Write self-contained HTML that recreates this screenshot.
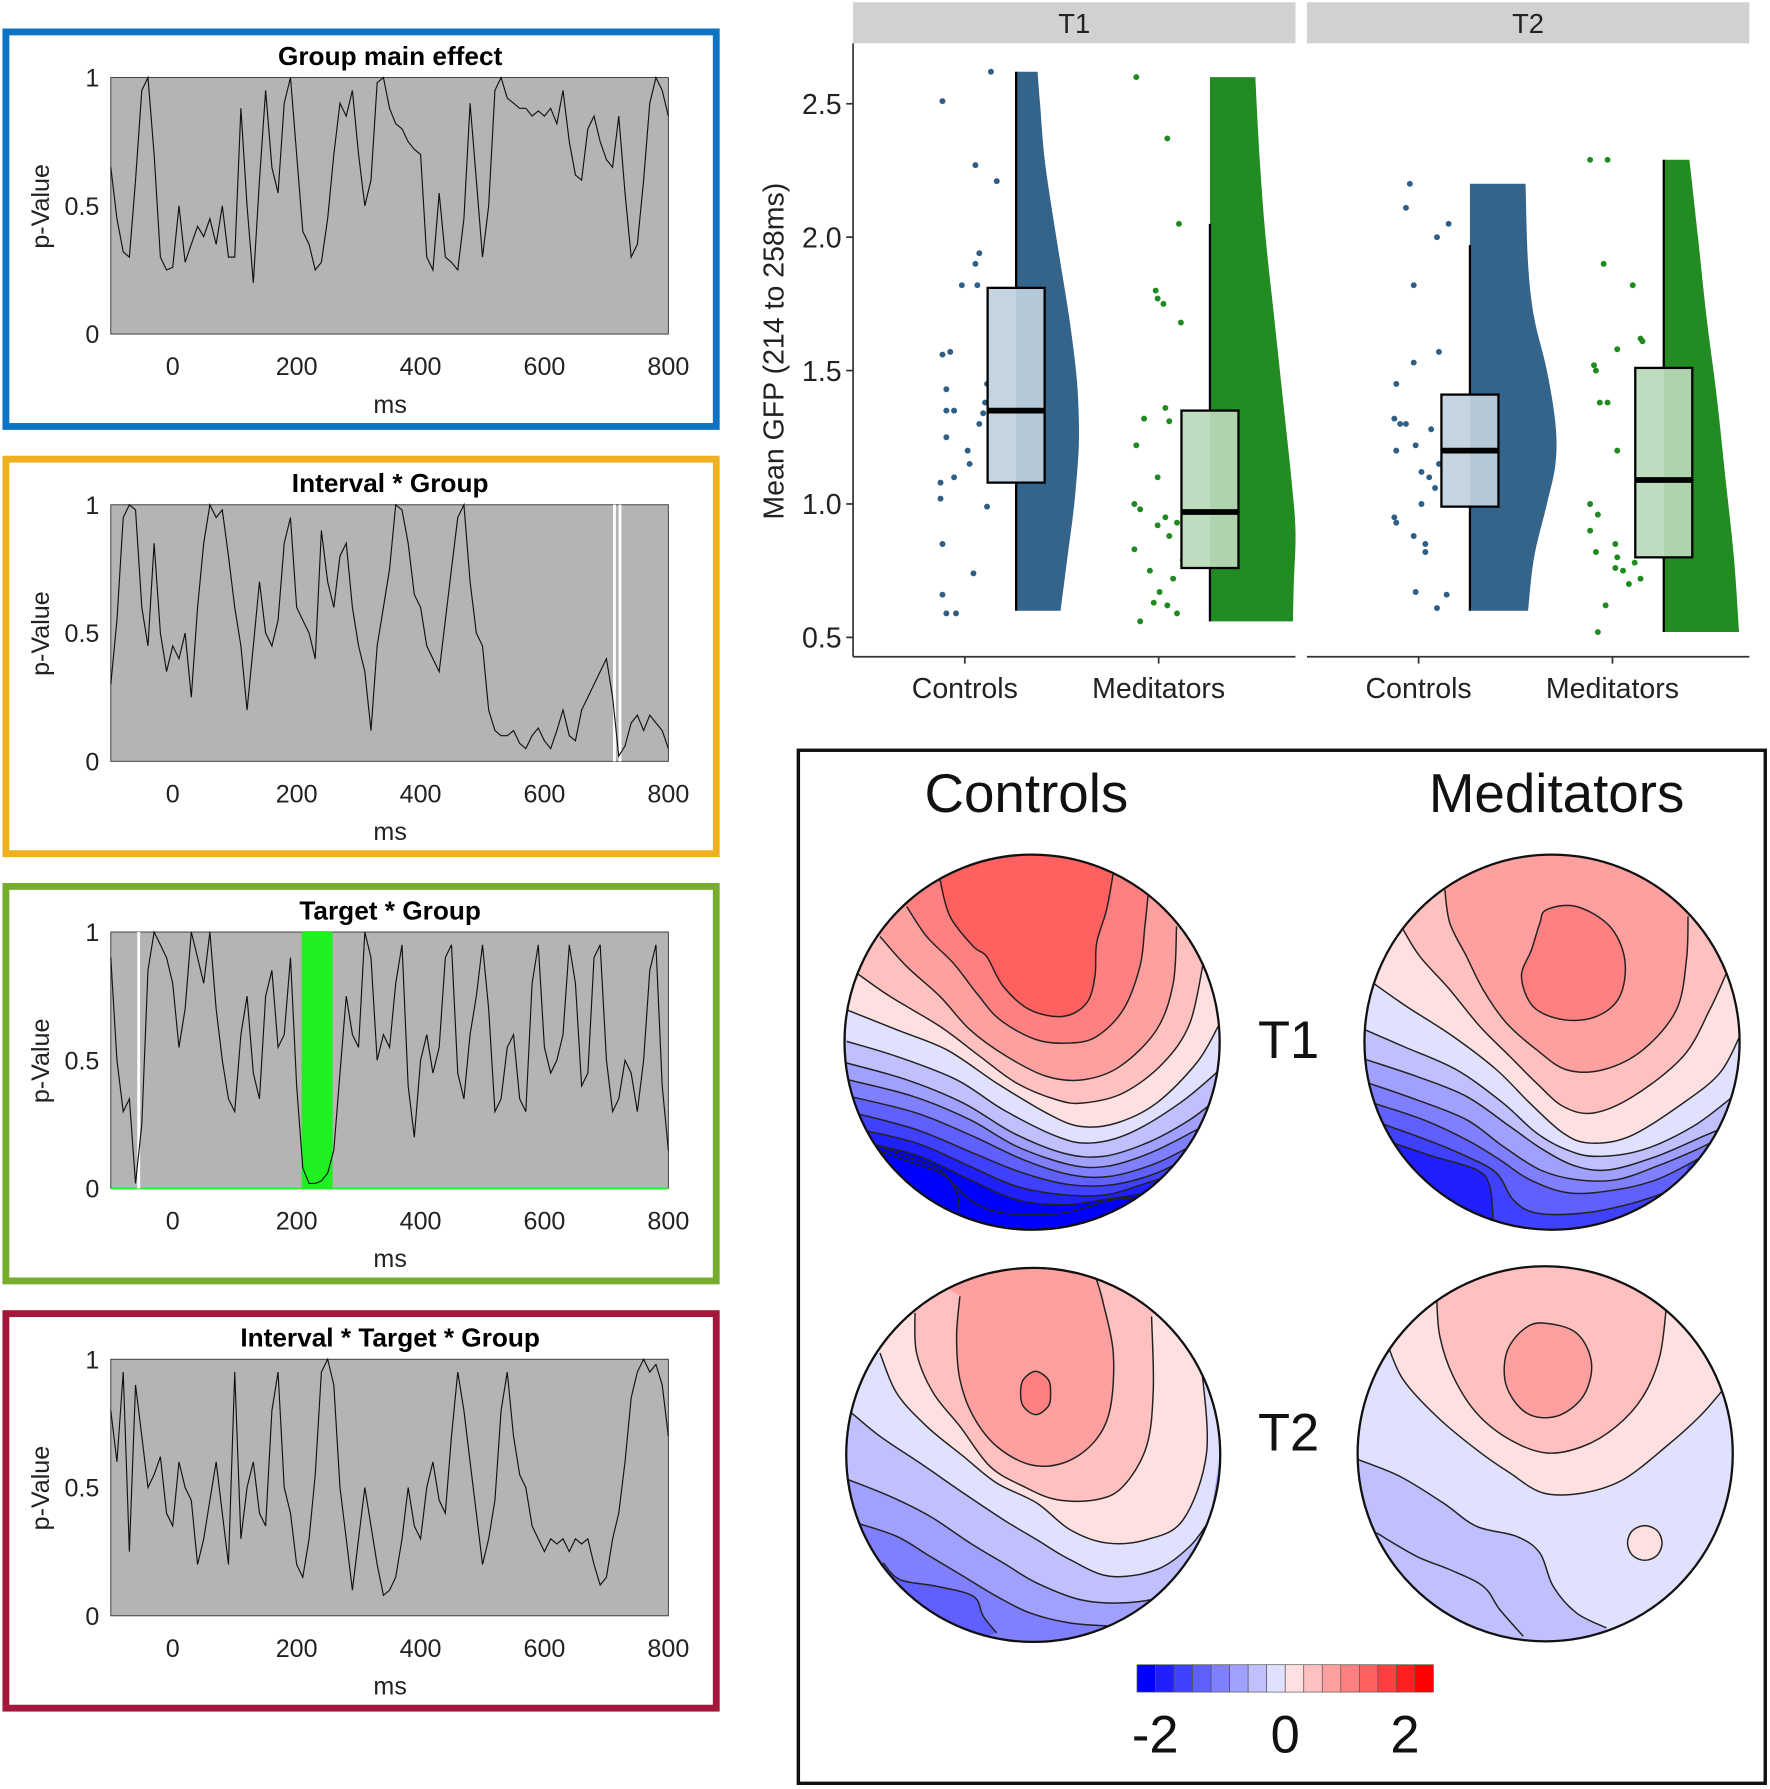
<!DOCTYPE html>
<html><head><meta charset="utf-8"><style>
html,body{margin:0;padding:0;background:#fff;}
svg{display:block;font-family:"Liberation Sans",Arial,sans-serif;}
</style></head><body>
<svg id="root" width="1770" height="1789" viewBox="0 0 1552 1569" xmlns="http://www.w3.org/2000/svg">
<defs>
<clipPath id="c1"><circle cx="905" cy="914" r="164.5"/></clipPath>
<clipPath id="c2"><circle cx="1361" cy="914" r="164.5"/></clipPath>
<clipPath id="c3"><circle cx="906" cy="1276" r="164"/></clipPath>
<clipPath id="c4"><circle cx="1355" cy="1275" r="164.5"/></clipPath>
</defs>
<g id="left"></g>
<g id="rain"></g>
<g id="topo"></g>
</svg>
<script>
const times=[-100,-90,-80,-70,-60,-50,-40,-30,-20,-10,0,10,20,30,40,50,60,70,80,90,100,110,120,130,140,150,160,170,180,190,200,210,220,230,240,250,260,270,280,290,300,310,320,330,340,350,360,370,380,390,400,410,420,430,440,450,460,470,480,490,500,510,520,530,540,550,560,570,580,590,600,610,620,630,640,650,660,670,680,690,700,710,720,730,740,750,760,770,780,790,800];
const pGroup=[.65,.45,.32,.3,.6,.95,1,.7,.3,.25,.26,.5,.28,.35,.42,.38,.45,.35,.5,.3,.3,.88,.5,.2,.6,.95,.65,.55,.9,1,.7,.4,.35,.25,.28,.45,.7,.9,.85,.95,.7,.5,.6,.98,1,.88,.82,.8,.75,.72,.7,.3,.25,.55,.3,.28,.25,.45,.9,.6,.3,.5,.95,1,.92,.9,.88,.88,.85,.87,.85,.88,.82,.95,.75,.62,.6,.8,.85,.75,.68,.65,.85,.55,.3,.35,.6,.9,1,.95,.85];
const pInterval=[.3,.55,.95,1,.98,.6,.45,.85,.5,.35,.45,.4,.5,.25,.6,.85,1,.95,.98,.8,.6,.45,.2,.45,.7,.5,.45,.55,.85,.95,.6,.55,.5,.4,.9,.7,.6,.8,.85,.6,.45,.35,.12,.45,.6,.75,1,.98,.85,.65,.6,.45,.4,.35,.55,.75,.95,1,.7,.5,.45,.2,.12,.1,.1,.12,.07,.05,.1,.13,.08,.05,.12,.2,.1,.08,.2,.25,.3,.35,.4,.25,.02,.06,.15,.18,.12,.18,.15,.12,.05];
const pTarget=[.9,.5,.3,.35,.02,.25,.85,1,.95,.9,.8,.55,.7,1,.9,.8,1,.7,.5,.35,.3,.6,.75,.45,.35,.75,.85,.55,.6,.9,.4,.08,.02,.02,.03,.06,.15,.45,.75,.6,.55,1,.9,.5,.6,.55,.8,.95,.4,.2,.5,.6,.45,.55,.9,.95,.45,.35,.6,.75,.95,.7,.3,.35,.55,.6,.35,.3,.8,.95,.55,.45,.5,.6,.95,.8,.4,.45,.9,.95,.5,.3,.35,.5,.45,.3,.5,.85,.95,.4,.15];
const pTriple=[.8,.6,.95,.25,.9,.7,.5,.55,.62,.4,.35,.6,.5,.45,.2,.3,.45,.6,.4,.2,.95,.3,.5,.6,.4,.35,.8,.95,.5,.4,.2,.15,.3,.55,.95,1,.9,.5,.3,.1,.3,.5,.35,.2,.08,.1,.15,.3,.5,.35,.3,.5,.6,.45,.4,.7,.95,.8,.6,.4,.2,.3,.45,.8,.95,.7,.55,.5,.35,.3,.25,.3,.28,.3,.25,.3,.28,.3,.2,.12,.15,.3,.4,.6,.85,.95,1,.95,.98,.9,.7];
const xTicks=[0,200,400,600,800];
const yTicks=[0,0.5,1];
const panelTitles=["Group main effect","Interval * Group","Target * Group","Interval * Target * Group"];
const panelColors=["#0b73c2","#efb021","#76ad2f","#a2173a"];
const panelSeries=[pGroup,pInterval,pTarget,pTriple];
const whiteLines=[[],[713,722],[-55],[]];
const greenBands=[[],[],[[208,258]],[]];

const NS="http://www.w3.org/2000/svg";
function mk(tag,attrs,parent,text){const e=document.createElementNS(NS,tag);for(const k in attrs)e.setAttribute(k,attrs[k]);if(text!==undefined)e.textContent=text;parent.appendChild(e);return e;}
function smooth(P,closed){
  const n=P.length;let d='M'+P[0][0].toFixed(1)+' '+P[0][1].toFixed(1);
  const last=closed?n:n-1;
  for(let i=0;i<last;i++){
    const p0=P[closed?(i-1+n)%n:Math.max(i-1,0)],p1=P[i],p2=P[(i+1)%n],p3=P[closed?(i+2)%n:Math.min(i+2,n-1)];
    const c1=[p1[0]+(p2[0]-p0[0])/6,p1[1]+(p2[1]-p0[1])/6],c2=[p2[0]-(p3[0]-p1[0])/6,p2[1]-(p3[1]-p1[1])/6];
    d+=`C${c1[0].toFixed(1)} ${c1[1].toFixed(1)} ${c2[0].toFixed(1)} ${c2[1].toFixed(1)} ${p2[0].toFixed(1)} ${p2[1].toFixed(1)}`;
  }
  if(closed)d+='Z';return d;}

const left=document.getElementById('left');
const px0=97,px1=586;
const xs=t=>px0+(t+100)/900*(px1-px0);
for(let i=0;i<4;i++){
  const oy=i*374.7;
  const top=68+oy,bot=293+oy;
  const ys=p=>bot-p*(bot-top);
  const g=mk('g',{},left);
  
  
  const fr=mk('rect',{x:5,y:28+oy,width:623,height:346,fill:'none',stroke:panelColors[i],'stroke-width':6},g);
  
  
  const bg=mk('rect',{x:px0,y:top,width:px1-px0,height:bot-top,fill:'#b4b4b4',stroke:'#333','stroke-width':0.8},g);
  
  
  greenBands[i].forEach(b=>{const r=mk('rect',{x:xs(b[0]),y:top,width:xs(b[1])-xs(b[0]),height:bot-top,fill:'#1ff01f'},g);
    
    
    const l=mk('line',{x1:px0,x2:px1,y1:bot,y2:bot,stroke:'#1ff01f','stroke-width':1.5},g);
    
    });
  whiteLines[i].forEach(t=>{const l=mk('line',{x1:xs(t),x2:xs(t),y1:top,y2:bot,stroke:'#fff','stroke-width':2.5},g);
    
    });
  const d=panelSeries[i].map((p,k)=>(k?'L':'M')+xs(times[k]).toFixed(1)+' '+ys(p).toFixed(1)).join('');
  const pl=mk('path',{d:d,fill:'none',stroke:'#111','stroke-width':1},g);
  
  
  const tt=mk('text',{x:342,y:57+oy,'text-anchor':'middle','font-size':23,'font-weight':'bold'},g,panelTitles[i]);
  
  
  xTicks.forEach(t=>{const l=mk('text',{x:xs(t),y:329+oy,'text-anchor':'middle','font-size':22,fill:'#222'},g,String(t));
    
    });
  yTicks.forEach(v=>{const l=mk('text',{x:87,y:ys(v)+8,'text-anchor':'end','font-size':22,fill:'#222'},g,String(v));
    
    });
  const xl=mk('text',{x:342,y:362+oy,'text-anchor':'middle','font-size':22,fill:'#222'},g,'ms');
  
  
  const yl=mk('text',{x:0,y:0,'text-anchor':'middle','font-size':22,fill:'#222',transform:`translate(43,${181+oy}) rotate(-90)`},g,'p-Value');
  
  
}

/* ---------- Raincloud ---------- */
const facetLabels=["T1","T2"];
const groupLabels=["Controls","Meditators"];
const gfpTicks=[0.5,1.0,1.5,2.0,2.5];
const ctrlT1Vals=[2.51,2.62,2.27,2.21,1.94,1.9,1.82,1.82,1.56,1.57,1.43,1.38,1.35,1.35,1.3,1.34,1.25,1.2,1.15,1.1,1.08,1.02,0.99,0.85,0.74,0.66,0.59,0.59,1.45,1.38];
const ctrlT1Jit=[-.38,-.13,-.21,-.1,-.19,-.21,-.28,-.2,-.38,-.34,-.36,-.16,-.36,-.32,-.19,-.17,-.36,-.25,-.24,-.32,-.39,-.39,-.15,-.38,-.22,-.38,-.36,-.31,-.15,-.12];
const medT1Vals=[2.6,2.37,2.05,1.8,1.77,1.75,1.68,1.36,1.32,1.31,1.22,1.1,1.0,0.98,0.95,0.92,0.93,0.88,0.83,0.79,0.75,0.72,0.67,0.63,0.62,0.59,0.56,0.9];
const medT1Jit=[-.38,-.22,-.16,-.28,-.27,-.24,-.15,-.23,-.34,-.21,-.38,-.27,-.39,-.36,-.23,-.27,-.17,-.21,-.39,-.14,-.31,-.19,-.26,-.29,-.22,-.17,-.36,-.12];
const ctrlT2Vals=[2.2,2.11,2.05,2.0,1.82,1.57,1.53,1.45,1.32,1.3,1.28,1.22,1.2,1.12,1.1,1.06,1.0,0.95,0.93,0.88,0.85,0.82,0.67,0.66,0.61,1.15,1.3];
const ctrlT2Jit=[-.31,-.33,-.11,-.17,-.29,-.16,-.29,-.38,-.39,-.33,-.2,-.28,-.38,-.25,-.21,-.18,-.25,-.39,-.38,-.29,-.23,-.23,-.28,-.12,-.17,-.16,-.36];
const medT2Vals=[2.29,2.29,1.9,1.82,1.62,1.61,1.58,1.52,1.5,1.38,1.38,1.33,1.23,1.2,1.0,0.96,0.9,0.85,0.82,0.8,0.78,0.76,0.75,0.72,0.7,0.62,0.52];
const medT2Jit=[-.38,-.29,-.31,-.16,-.12,-.11,-.24,-.36,-.35,-.33,-.29,-.12,-.12,-.24,-.38,-.34,-.38,-.25,-.35,-.24,-.15,-.25,-.21,-.12,-.18,-.3,-.34];
const ctrlT1Box=[0.6,1.08,1.35,1.81,2.62];
const medT1Box=[0.56,0.76,0.97,1.35,2.05];
const ctrlT2Box=[0.6,0.99,1.2,1.41,1.97];
const medT2Box=[0.52,0.8,1.09,1.51,2.29];
const ctrlT1DenY=[0.6,0.8,1.0,1.2,1.35,1.5,1.7,1.9,2.1,2.3,2.5,2.62];
const ctrlT1Den=[0.52,0.6,0.68,0.73,0.73,0.7,0.62,0.52,0.42,0.33,0.28,0.25];
const medT1DenY=[0.56,0.7,0.9,1.1,1.4,1.7,2.0,2.3,2.6];
const medT1Den=[0.97,0.98,1.0,0.95,0.85,0.75,0.65,0.58,0.53];
const ctrlT2DenY=[0.6,0.8,1.0,1.15,1.3,1.5,1.7,1.9,2.2];
const ctrlT2Den=[0.68,0.75,0.9,1.0,1.0,0.9,0.75,0.68,0.65];
const medT2DenY=[0.52,0.8,1.1,1.4,1.7,2.0,2.29];
const medT2Den=[0.88,0.82,0.72,0.62,0.5,0.4,0.3];

const rain=document.getElementById('rain');
const gy=v=>559-(v-0.5)*234;
const facetX=[748,1146],facetW=388,band=170,denScale=75;
const groups=[
 {f:0,c:0,vals:ctrlT1Vals,jit:ctrlT1Jit,box:ctrlT1Box,dy:ctrlT1DenY,dd:ctrlT1Den},
 {f:0,c:1,vals:medT1Vals,jit:medT1Jit,box:medT1Box,dy:medT1DenY,dd:medT1Den},
 {f:1,c:0,vals:ctrlT2Vals,jit:ctrlT2Jit,box:ctrlT2Box,dy:ctrlT2DenY,dd:ctrlT2Den},
 {f:1,c:1,vals:medT2Vals,jit:medT2Jit,box:medT2Box,dy:medT2DenY,dd:medT2Den}];
const darkC=["#35648b","#228b22"],lightC=["#c5d4e1","#c0dcc0"],ptC=["#2f5f86","#1f8a1f"];
facetLabels.forEach((lab,f)=>{
  const s=mk('rect',{x:facetX[f],y:2,width:facetW,height:36,fill:'#d1d1d1'},rain);
  
  
  const t=mk('text',{x:facetX[f]+facetW/2,y:29,'text-anchor':'middle','font-size':24,fill:'#222'},rain,lab);
  
  
  const ax=mk('line',{x1:facetX[f],x2:facetX[f]+facetW,y1:576,y2:576,stroke:'#333','stroke-width':1.5},rain);
  
  
  groupLabels.forEach((gl,c)=>{
    const cx=facetX[f]+98+c*band;
    const tk=mk('line',{x1:cx,x2:cx,y1:576,y2:582,stroke:'#333','stroke-width':1.5},rain);
    
    
    const tl=mk('text',{x:cx,y:612,'text-anchor':'middle','font-size':25,fill:'#222'},rain,gl);
    
    
  });
});
const yax=mk('line',{x1:748,x2:748,y1:38,y2:576,stroke:'#333','stroke-width':1.5},rain);


gfpTicks.forEach(v=>{
  const l=mk('line',{x1:742,x2:748,y1:gy(v),y2:gy(v),stroke:'#333','stroke-width':1.5},rain);
  
  
  const t=mk('text',{x:738,y:gy(v)+9,'text-anchor':'end','font-size':25,fill:'#222'},rain,v.toFixed(1));
  
  
});
const ytl=mk('text',{x:0,y:0,'text-anchor':'middle','font-size':25,fill:'#222',transform:'translate(687,308) rotate(-90)'},rain,'Mean GFP (214 to 258ms)');


groups.forEach(G=>{
  const cat=facetX[G.f]+98+G.c*band;
  const cx=cat+45;
  const g=mk('g',{},rain);
  
  
  const pts=G.dy.map((y,k)=>[cx+G.dd[k]*denScale,gy(y)]);
  let d=smooth(pts,false);
  d+='L'+cx+' '+gy(G.dy[G.dy.length-1])+'L'+cx+' '+gy(G.dy[0])+'Z';
  const v=mk('path',{d:d,fill:darkC[G.c]},g);
  
  
  G.vals.forEach((val,k)=>{const p=mk('circle',{cx:cx+G.jit[k]*band,cy:gy(val),r:2.6,fill:ptC[G.c]},g);
    
    });
  const b=G.box;
  const w=mk('line',{x1:cx,x2:cx,y1:gy(b[0]),y2:gy(b[4]),stroke:'#000','stroke-width':2},g);
  
  
  const bx=mk('rect',{x:cx-25,y:gy(b[3]),width:50,height:gy(b[1])-gy(b[3]),fill:lightC[G.c],stroke:'#000','stroke-width':2},g);
  
  
  const hr=mk('rect',{x:cx,y:gy(b[3])+1,width:24,height:gy(b[1])-gy(b[3])-2,fill:darkC[G.c],opacity:0.1},g);
  
  
  const m=mk('line',{x1:cx-25,x2:cx+25,y1:gy(b[2]),y2:gy(b[2]),stroke:'#000','stroke-width':5},g);
  
  
});

/* ---------- Topomaps (contours traced in reference crop units) ---------- */
const topo=document.getElementById('topo');
function pal(i){if(i<8){const a=i*32;return `rgb(${a},${a},255)`;}const a=224-(i-8)*32;return `rgb(255,${a},${a})`;}
const fr=mk('rect',{x:700,y:658,width:848,height:906,fill:'none',stroke:'#111','stroke-width':3},topo);


[["Controls",900],["Meditators",1365]].forEach(([s,x])=>{const t=mk('text',{x:x,y:712,'text-anchor':'middle','font-size':48,fill:'#111'},topo,s);
  
  });
[["T1",1130,928],["T2",1130,1272]].forEach(([s,x,y])=>{const t=mk('text',{x:x,y:y,'text-anchor':'middle','font-size':46,fill:'#111'},topo,s);
  
  });
const TOP=[[1300,-250],[-100,-250]];
const maps=[
 {clip:'c1',o:[830,850],c:[905,914,164.5],bg:0,
  shapes:[
   {i:12,p:[[330,90],[360,200],[430,290],[470,320],[520,410],[600,480],[700,500],[770,460],[795,380],[800,280],[830,180],[850,70]]},
   {i:11,p:[[230,170],[290,260],[370,340],[440,430],[510,510],[620,570],[720,580],[800,560],[880,480],[930,350],[945,230],[955,130]]},
   {i:10,p:[[150,260],[230,350],[330,440],[420,540],[530,620],[650,680],[760,690],[870,650],[980,540],[1030,400],[1040,230]]},
   {i:9,p:[[80,370],[180,440],[330,530],[450,620],[560,700],[680,750],[760,760],[880,730],[1000,640],[1080,520],[1120,340]]},
   {i:8,p:[[50,480],[200,540],[350,600],[500,700],[650,790],[750,830],[860,820],[980,760],[1100,640],[1165,530]]},
   {i:7,p:[[50,575],[200,620],[380,690],[520,780],[680,860],[780,880],[900,850],[1050,760],[1170,660]]},
   {i:6,p:[[50,640],[230,690],[400,760],[550,850],[700,910],[820,920],[950,880],[1080,810],[1170,740]]},
   {i:5,p:[[55,690],[250,740],[420,810],[560,890],[720,945],[830,950],[960,910],[1100,840],[1165,800]]},
   {i:4,p:[[60,740],[260,790],[430,860],[580,930],[720,975],[840,980],[980,940],[1100,880],[1160,850]]},
   {i:3,p:[[75,790],[260,840],[430,910],[580,970],[720,1005],[850,1005],[980,970],[1100,910],[1140,900]]},
   {i:2,p:[[90,840],[260,880],[420,950],[560,1010],[700,1035],[830,1035],[950,1000],[1080,960],[1120,950]]},
   {i:1,p:[[115,880],[270,920],[420,990],[560,1050],[700,1065],[820,1050],[950,1030],[1060,1010],[1100,990]]},
   {i:-1,p:[[140,900],[250,940],[340,975],[420,1050],[520,1090],[700,1090],[850,1050],[1000,1040],[1080,1000]]},
   {i:-1,p:[[150,890],[230,920],[330,960],[380,1030],[390,1110]]}]},
 {clip:'c2',o:[1350,850],c:[1361,914,164.5],bg:2,
  shapes:[
   {i:10,p:[[285,120],[300,220],[350,320],[400,420],[470,520],[560,600],[650,660],[760,660],[880,600],[980,480],[1010,330],[1015,200]]},
   {i:9,p:[[160,240],[210,320],[300,420],[390,530],[480,620],[560,700],[640,770],[730,790],[850,740],[1000,620],[1080,480],[1130,370]]},
   {i:8,p:[[70,400],[170,470],[310,560],[440,660],[540,760],[640,850],[720,880],[840,860],[1000,760],[1110,670],[1170,560]]},
   {i:7,p:[[45,540],[160,590],[320,660],[460,760],[560,850],[650,900],[740,920],[880,900],[1030,830],[1150,740]]},
   {i:6,p:[[50,630],[200,680],[350,740],[480,830],[580,900],[680,950],[780,960],[920,920],[1060,860],[1130,830]]},
   {i:5,p:[[55,700],[200,750],[350,810],[460,890],[570,960],[680,990],[800,990],[920,950],[1040,900],[1100,870]]},
   {i:4,p:[[70,760],[220,810],[350,870],[450,930],[540,990],[660,1030],[800,1020],[920,990],[1040,930],[1080,900]]},
   {i:3,p:[[90,820],[230,870],[350,920],[440,970],[490,1050],[560,1090],[700,1090],[850,1060],[1000,1010]]},
   {i:1,p:[[130,880],[250,920],[380,960],[420,1010],[430,1120]],close:[[-100,1300],[-100,800]]},
   {i:11,p:[[590,180],[680,170],[780,230],[825,330],[810,440],[740,500],[640,510],[550,470],[515,380],[545,300],[570,220]],blob:1}]},
 {clip:'c3',o:[830,1270],c:[906,1276,164],bg:4,
  shapes:[
   {i:10,p:[[390,80],[380,200],[390,330],[430,440],[500,530],[600,585],[700,580],[790,520],[840,420],[850,250],[820,100],[800,30]]},
   {i:9,p:[[255,130],[260,250],[310,370],[390,470],[480,590],[580,650],[680,690],[800,690],[880,650],[950,530],[970,360],[965,140]]},
   {i:8,p:[[150,250],[200,370],[290,470],[400,560],[500,640],[620,700],[720,780],[830,820],[950,810],[1060,750],[1130,550],[1115,290]]},
   {i:7,p:[[65,430],[150,500],[270,580],[400,670],[520,750],[620,810],[720,870],[840,920],[980,900],[1080,830],[1140,750]]},
   {i:6,p:[[55,630],[180,680],[300,740],[420,820],[520,880],[620,940],[750,990],[880,1000],[1000,980],[1090,930]]},
   {i:5,p:[[80,760],[200,800],[300,860],[400,920],[500,980],[600,1030],[720,1060],[850,1070]],close:[[1300,1000],[1300,-250],[-100,-250]]},
   {i:3,p:[[160,880],[210,930],[320,950],[430,980],[460,1040],[500,1090]],close:[[-100,1300],[-100,800]]},
   {i:11,p:[[617,305],[655,330],[662,370],[655,410],[617,435],[580,410],[572,370],[580,330]],blob:1}]},
 {clip:'c4',o:[1350,1270],c:[1355,1275,164.5],bg:7,
  shapes:[
   {i:9,p:[[260,80],[270,200],[310,320],[380,430],[480,510],[590,550],[700,530],[800,470],[880,380],[930,260],[950,110]]},
   {i:8,p:[[115,230],[160,330],[260,440],[380,540],[480,610],[580,670],[700,670],[820,630],[950,530],[1050,440],[1120,360]]},
   {i:6,p:[[25,570],[150,620],[280,700],[380,770],[500,800],[570,850],[610,950],[680,1030],[770,1075]],close:[[800,1300],[-100,1300],[-100,570]]},
   {i:5,p:[[80,790],[200,860],[300,900],[400,950],[450,1020],[520,1100]],close:[[600,1300],[-100,1300],[-100,790]]},
   {i:10,p:[[580,160],[680,190],[725,280],[700,380],[620,440],[530,430],[470,350],[470,250],[520,180]],blob:1},
   {i:8,p:[[885,768],[922,783],[937,820],[922,857],[885,872],[848,857],[833,820],[848,783]],blob:1}]}];
maps.forEach((M,mi)=>{
  const cv=p=>[(M.o[0]+p[0]/3)/1.1405,(M.o[1]+p[1]/3)/1.1405];
  const g=mk('g',{'clip-path':`url(#${M.clip})`},topo);
  
  
  const bgc=mk('circle',{cx:M.c[0],cy:M.c[1],r:M.c[2]+2,fill:pal(M.bg)},g);
  
  
  const fills=M.shapes.filter(s=>!s.blob&&s.i>=0).slice().reverse().concat(M.shapes.filter(s=>s.blob));
  fills.forEach(s=>{
    const P=s.p.map(cv);
    let d;
    if(s.blob){d=smooth(P,true);}
    else{d=smooth(P,false);(s.close||TOP).map(cv).forEach(q=>{d+='L'+q[0].toFixed(1)+' '+q[1].toFixed(1);});d+='Z';}
    const e=mk('path',{d:d,fill:pal(s.i),stroke:'none'},g);
    
    
  });
  M.shapes.forEach(s=>{
    const e=mk('path',{d:smooth(s.p.map(cv),!!s.blob),fill:'none',stroke:'#222','stroke-width':1.3},g);
    
    
  });
  const o=mk('circle',{cx:M.c[0],cy:M.c[1],r:M.c[2],fill:'none',stroke:'#111','stroke-width':2},topo);
  
  
});
// colorbar
const cbIdx=[0,1,2,3,4,5,6,7,8,9,10,11,12,13,14,15];
const cw=260/cbIdx.length;
cbIdx.forEach((v,k)=>{const r=mk('rect',{x:997+k*cw,y:1460,width:cw,height:24,fill:pal(v),stroke:'#555','stroke-width':0.6},topo);
  
  });
[["-2",1013],["0",1127],["2",1232]].forEach(([s,x])=>{const t=mk('text',{x:x,y:1537,'text-anchor':'middle','font-size':46,fill:'#111'},topo,s);
  
  });
</script>
</body></html>
